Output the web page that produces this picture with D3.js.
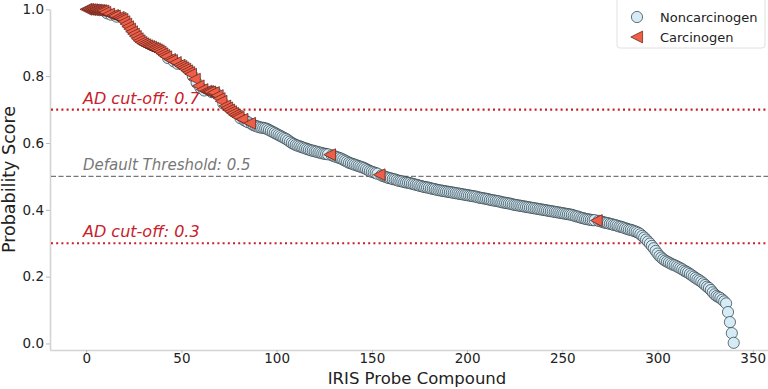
<!DOCTYPE html>
<html>
<head>
<meta charset="utf-8">
<script src="https://cdn.jsdelivr.net/npm/d3@7/dist/d3.min.js"></script>
<style>
html,body{margin:0;padding:0;background:#fff;}
svg{display:block;font-family:"DejaVu Sans",sans-serif;}
</style>
</head>
<body>
<svg id="chart" width="768" height="389"></svg>
<script>
// Probability scores, sorted descending, one per IRIS probe compound (index 0..340)
const scores = [
1.000,1.000,0.999,0.999,0.998,0.998,0.997,0.997,0.996,0.995,
0.991,0.988,0.986,0.984,0.982,0.980,0.978,0.976,0.973,0.970,
0.963,0.956,0.948,0.941,0.933,0.926,0.919,0.912,0.906,0.901,
0.897,0.894,0.891,0.889,0.887,0.884,0.882,0.879,0.876,0.872,
0.867,0.862,0.858,0.854,0.850,0.847,0.844,0.841,0.837,0.833,
0.829,0.825,0.821,0.816,0.811,0.806,0.800,0.791,0.780,0.771,
0.765,0.760,0.757,0.755,0.754,0.753,0.752,0.751,0.750,0.742,
0.733,0.725,0.718,0.711,0.705,0.699,0.694,0.689,0.684,0.680,
0.677,0.674,0.671,0.668,0.665,0.662,0.659,0.656,0.653,0.651,
0.649,0.647,0.646,0.645,0.644,0.642,0.639,0.636,0.633,0.630,
0.627,0.624,0.621,0.618,0.615,0.612,0.608,0.604,0.600,0.597,
0.594,0.592,0.590,0.588,0.586,0.584,0.582,0.580,0.578,0.577,
0.575,0.574,0.572,0.571,0.569,0.568,0.567,0.566,0.565,0.563,
0.561,0.559,0.557,0.555,0.553,0.550,0.547,0.544,0.541,0.539,
0.537,0.535,0.533,0.531,0.529,0.527,0.525,0.522,0.519,0.516,
0.514,0.512,0.510,0.508,0.505,0.503,0.501,0.499,0.497,0.495,
0.494,0.492,0.491,0.489,0.487,0.486,0.485,0.483,0.482,0.481,
0.480,0.478,0.477,0.475,0.474,0.472,0.471,0.469,0.468,0.467,
0.466,0.464,0.463,0.462,0.460,0.459,0.458,0.457,0.456,0.455,
0.454,0.453,0.452,0.451,0.450,0.449,0.448,0.447,0.446,0.445,
0.444,0.443,0.442,0.441,0.440,0.439,0.437,0.436,0.435,0.434,
0.433,0.432,0.430,0.429,0.428,0.427,0.426,0.425,0.423,0.422,
0.421,0.420,0.419,0.418,0.416,0.415,0.414,0.413,0.412,0.411,
0.410,0.409,0.408,0.407,0.406,0.405,0.404,0.403,0.402,0.401,
0.400,0.399,0.398,0.397,0.396,0.395,0.394,0.393,0.392,0.391,
0.390,0.389,0.388,0.387,0.386,0.385,0.383,0.381,0.380,0.378,
0.376,0.375,0.373,0.372,0.371,0.370,0.369,0.369,0.368,0.367,
0.366,0.364,0.362,0.361,0.360,0.358,0.357,0.355,0.354,0.352,
0.350,0.349,0.347,0.345,0.343,0.341,0.340,0.338,0.336,0.334,
0.331,0.327,0.322,0.317,0.311,0.305,0.299,0.292,0.285,0.277,
0.269,0.262,0.257,0.252,0.248,0.245,0.242,0.239,0.236,0.234,
0.231,0.228,0.225,0.222,0.218,0.215,0.212,0.208,0.204,0.200,
0.196,0.192,0.189,0.185,0.180,0.175,0.170,0.166,0.160,0.153,
0.147,0.142,0.139,0.136,0.131,0.126,0.120,0.094,0.064,0.031,
0.002
];
// Indices of compounds labelled Carcinogen (all others Noncarcinogen)
const carcinogenIdx = [
0,1,2,3,4,5,6,7,8,9,10,12,14,15,17,18,19,20,21,22,23,24,25,26,27,28,29,30,
31,32,33,34,35,36,37,38,39,40,41,42,44,45,47,49,50,51,52,53,54,55,57,59,61,
63,64,65,67,69,70,71,73,74,75,76,77,78,79,80,82,86,128,154,268
];
const xTicks = [0,50,100,150,200,250,300,350];
const yTicks = [0.0,0.2,0.4,0.6,0.8,1.0];
const refLines = [
  {value:0.7, label:"AD cut-off: 0.7", kind:"ad"},
  {value:0.5, label:"Default Threshold: 0.5", kind:"default"},
  {value:0.3, label:"AD cut-off: 0.3", kind:"ad"}
];
const legendItems = [
  {label:"Noncarcinogen", kind:"non"},
  {label:"Carcinogen", kind:"car"}
];

const svg = d3.select("#chart");
const L = 50, R = 768, T = 0, B = 350;
const x = d3.scaleLinear().domain([-19, 358]).range([L, R]);
const y = d3.scaleLinear().domain([-0.0195, 1.0]).range([B, 9.3]);

const carSet = new Set(carcinogenIdx);
const pts = scores.map((v,i)=>({i, v, car: carSet.has(i)}));

// axes
const axG = svg.append("g");
const xAxis = axG.append("g").attr("transform",`translate(0,${B})`)
  .call(d3.axisBottom(x).tickValues(xTicks).tickFormat(d3.format("d")).tickSize(3).tickSizeOuter(0));
const yAxis = axG.append("g").attr("transform",`translate(${L},0)`)
  .call(d3.axisLeft(y).tickValues(yTicks).tickFormat(d3.format(".1f")).tickSize(4).tickSizeOuter(0));
[xAxis,yAxis].forEach(g=>{
  g.select(".domain").attr("stroke","#d4d4d4").attr("stroke-width",1.6);
  g.selectAll(".tick line").attr("stroke","#bbb").attr("stroke-width",1);
  g.selectAll(".tick text").attr("fill","#222").attr("font-size",13.5).attr("font-family","DejaVu Sans");
});
xAxis.selectAll(".tick text").attr("y",3).attr("dy","0.71em");
yAxis.selectAll(".tick text").attr("x",-6);

// reference lines
const rl = svg.append("g");
refLines.forEach(r=>{
  const yy = y(r.value);
  rl.append("line").attr("x1",L+1).attr("x2",R).attr("y1",yy).attr("y2",yy)
    .attr("stroke", r.kind==="ad" ? "#c8202a" : "#777")
    .attr("stroke-width", r.kind==="ad" ? 2.2 : 1.3)
    .attr("stroke-dasharray", r.kind==="ad" ? "2,3.2" : "5,2.5");
  rl.append("text").attr("x",83).attr("y",yy-6)
    .attr("font-size", r.kind==="ad" ? 16 : 15).attr("font-style","italic")
    .attr("fill", r.kind==="ad" ? "#c8202a" : "#777")
    .text(r.label);
});

// points
const triPath = (s)=>`M${-s},0L${s*0.9},${-s*0.95}L${s*0.9},${s*0.95}Z`;
const pg = svg.append("g");
pg.selectAll("circle.non").data(pts.filter(p=>!p.car)).join("circle")
  .attr("class","non")
  .attr("cx",d=>x(d.i)).attr("cy",d=>y(d.v)).attr("r",5.6)
  .attr("fill","#d5ebf6").attr("stroke","#2a3a40").attr("stroke-width",0.7);
pg.selectAll("path.car").data(pts.filter(p=>p.car)).join("path")
  .attr("class","car")
  .attr("transform",d=>`translate(${x(d.i)},${y(d.v)})`)
  .attr("d",triPath(6.2))
  .attr("fill","#ef5f47").attr("stroke","#5a2018").attr("stroke-width",0.7);

// axis labels
svg.append("text").attr("x",417).attr("y",384).attr("text-anchor","middle")
  .attr("font-size",16.5).attr("fill","#222").text("IRIS Probe Compound");
svg.append("text").attr("transform",`translate(15,${(B+9)/2}) rotate(-90)`)
  .attr("text-anchor","middle").attr("font-size",17.5).attr("fill","#222").text("Probability Score");

// legend
const lg = svg.append("g").attr("transform","translate(617,0)");
lg.append("rect").attr("x",0).attr("y",-4).attr("width",148).attr("height",52).attr("rx",3)
  .attr("fill","#fff").attr("fill-opacity",0.85).attr("stroke","#e0e0e0");
legendItems.forEach((it,k)=>{
  const cy = 17 + k*20;
  if(it.kind==="non"){
    lg.append("circle").attr("cx",20).attr("cy",cy).attr("r",5.6)
      .attr("fill","#d5ebf6").attr("stroke","#2a3a40").attr("stroke-width",0.7);
  } else {
    lg.append("path").attr("transform",`translate(20,${cy})`).attr("d",triPath(6.2))
      .attr("fill","#ef5f47").attr("stroke","#5a2018").attr("stroke-width",0.7);
  }
  lg.append("text").attr("x",43).attr("y",cy).attr("dy","0.35em")
    .attr("font-size",13).attr("fill","#222").text(it.label);
});
</script>
</body>
</html>
